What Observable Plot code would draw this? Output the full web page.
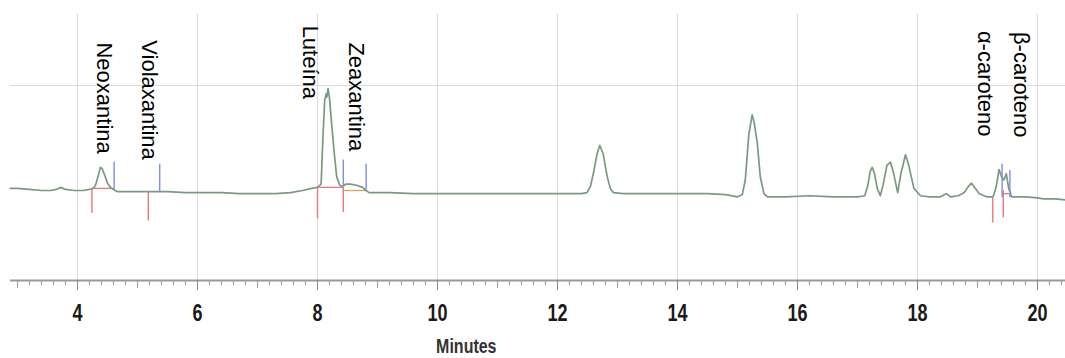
<!DOCTYPE html>
<html><head><meta charset="utf-8">
<script src="https://cdn.jsdelivr.net/npm/d3@7"></script>
<script src="https://cdn.jsdelivr.net/npm/@observablehq/plot@0.6"></script>
<style>
body{margin:0;background:#fff;}
#chart svg{display:block;}
</style></head><body><div id="chart"></div><script>
// retention time (minutes) and detector signal (arbitrary units)
const time = [2.88,3.0,3.2,3.4,3.55,3.65,3.72,3.8,3.95,4.1,4.2,4.26,4.3,4.34,4.38,4.41,4.45,4.5,4.55,4.6,4.66,4.9,5.2,5.5,5.8,6.1,6.4,6.7,7.0,7.3,7.55,7.75,7.9,8.0,8.06,8.09,8.12,8.145,8.155,8.175,8.2,8.23,8.28,8.32,8.37,8.42,8.47,8.55,8.65,8.75,8.81,8.86,9.2,9.6,10.0,10.5,11.0,11.5,12.0,12.4,12.49,12.55,12.6,12.66,12.705,12.76,12.83,12.88,12.93,13.1,13.5,14.0,14.5,14.8,15.0,15.08,15.13,15.19,15.245,15.28,15.33,15.38,15.44,15.5,15.8,16.2,16.6,17.0,17.12,17.17,17.21,17.245,17.28,17.33,17.38,17.43,17.49,17.55,17.6,17.67,17.72,17.8,17.85,17.94,18.05,18.2,18.38,18.48,18.55,18.68,18.78,18.85,18.9,18.95,19.03,19.15,19.26,19.31,19.36,19.4,19.44,19.48,19.52,19.57,19.8,20.0,20.1,20.3,20.47];
const signal = [0.02,0.02,0.01,0.0,0.0,0.01,0.03,0.01,0.0,0.0,0.01,0.02,0.05,0.13,0.22,0.21,0.15,0.07,0.03,0.01,-0.01,-0.01,-0.01,-0.01,-0.02,-0.02,-0.02,-0.03,-0.03,-0.03,-0.02,0.0,0.02,0.03,0.06,0.5,0.86,0.92,0.89,0.97,0.88,0.67,0.35,0.13,0.05,0.04,0.06,0.06,0.05,0.03,0.0,-0.02,-0.02,-0.03,-0.03,-0.03,-0.03,-0.03,-0.03,-0.03,-0.02,0.04,0.17,0.35,0.43,0.35,0.13,0.02,-0.02,-0.03,-0.03,-0.03,-0.03,-0.04,-0.06,-0.04,0.1,0.54,0.72,0.64,0.45,0.13,-0.03,-0.06,-0.06,-0.05,-0.06,-0.06,-0.05,0.04,0.18,0.22,0.17,0.02,-0.05,0.06,0.24,0.27,0.17,-0.02,0.15,0.34,0.25,0.02,-0.05,-0.06,-0.06,-0.03,-0.06,-0.05,-0.02,0.04,0.07,0.03,-0.03,-0.06,-0.06,0.03,0.2,0.13,0.1,0.16,0.02,-0.06,-0.06,-0.07,-0.08,-0.08,-0.09];

// peak labels
const peakNames = ["Neoxantina","Violaxantina","Luteína","Zeaxantina","α-caroteno","β-caroteno"];
const labelTime = [4.44,5.19,7.875,8.64,19.13,19.73];
const labelTop = [1.41,1.43,1.57,1.41,1.52,1.51];

// integration marks: peak start (red, down) and peak end (blue, up)
const startTime = [4.24,5.18,8.0,8.43,19.255,19.43];
const startHigh = [0.02,-0.01,0.04,0.03,-0.07,0.0];
const startLow = [-0.22,-0.29,-0.27,-0.21,-0.31,-0.26];
const endTime = [4.61,5.37,8.43,8.81,19.41,19.54];
const endHigh = [0.27,0.25,0.29,0.25,0.25,0.19];
const endLow = [0.01,-0.02,0.04,-0.01,-0.07,-0.07];

// integration baselines
const baseFrom = [4.24,8.0,19.41];
const baseTo = [4.61,8.43,19.54];
const baseLevel = [0.02,0.03,-0.03];
const base2From = [8.43];
const base2To = [8.81];
const base2Level = [0.0];

// axis ticks
const majorTicks = [4,6,8,10,12,14,16,18,20];
const oddTicks = [3,5,7,9,11,13,15,17,19];
const minorTicks = d3.range(3, 20.41, 0.2).map(v => Math.round(v*10)/10);
const axisTitle = "Minutes";
const axisTitleTime = [10.48];

const xDomain = [2.883, 20.467];
const yDomain = [-0.857, 1.676];

const data = time.map((t, i) => ({t, v: signal[i]}));

const chart = Plot.plot({
  width: 1065, height: 358,
  marginLeft: 10, marginRight: 0, marginTop: 14, marginBottom: 78,
  x: {domain: xDomain},
  y: {domain: yDomain, axis: null},
  style: {fontFamily: "'Liberation Sans', Arial, sans-serif", background: "white", overflow: "visible"},
  marks: [
    Plot.gridX({ticks: majorTicks, stroke: "#dcdcdc", strokeOpacity: 1}),
    Plot.gridY({ticks: [1], stroke: "#dcdcdc", strokeOpacity: 1}),
    Plot.ruleY([yDomain[0]], {stroke: "#9a9a9a", strokeWidth: 2}),
    Plot.axisX({ticks: minorTicks, tickSize: 5, tickFormat: () => "", stroke: "#9a9a9a", label: null}),
    Plot.axisX({ticks: oddTicks, tickSize: 8, tickFormat: () => "", stroke: "#9a9a9a", label: null}),
    Plot.axisX({ticks: majorTicks, tickSize: 10, tickPadding: 14, fontSize: 18, fontWeight: "bold", stroke: "#8a8a8a", fill: "#1a1a1a", label: null}),
    Plot.ruleY(baseFrom, {x1: d => d, x2: (d, i) => baseTo[i], y: (d, i) => baseLevel[i], stroke: "#e67a7a", strokeWidth: 1.3}),
    Plot.ruleY(base2From, {x1: d => d, x2: (d, i) => base2To[i], y: (d, i) => base2Level[i], stroke: "#d9a35a", strokeWidth: 1.3}),
    Plot.line(data, {x: "t", y: "v", stroke: "#7a9a80", strokeWidth: 1.7}),
    Plot.ruleX(startTime, {x: d => d, y1: (d, i) => startHigh[i], y2: (d, i) => startLow[i], stroke: "#e67a7a", strokeWidth: 1.4}),
    Plot.ruleX(endTime, {x: d => d, y1: (d, i) => endHigh[i], y2: (d, i) => endLow[i], stroke: "#7f8fdc", strokeWidth: 1.4}),
    Plot.text(peakNames, {x: (d, i) => labelTime[i], y: (d, i) => labelTop[i], text: d => d, rotate: 90, textAnchor: "start", lineAnchor: "middle", fontSize: 22, fill: "black"}),
    Plot.text([axisTitle], {x: axisTitleTime, frameAnchor: "bottom", dy: 66, text: d => d, fontSize: 16, fontWeight: "bold", fill: "#333", lineAnchor: "middle"})
  ]
});
document.getElementById("chart").append(chart);
// vertical stretch of the axis text, as in the reference
const stretchText = t => t.setAttribute("transform", (t.getAttribute("transform") || "") + " scale(1,1.3)");
chart.querySelectorAll('g[aria-label="x-axis tick label"] text').forEach(stretchText);
chart.querySelectorAll("text").forEach(t => { if (t.textContent === axisTitle) stretchText(t); });
</script></body></html>
